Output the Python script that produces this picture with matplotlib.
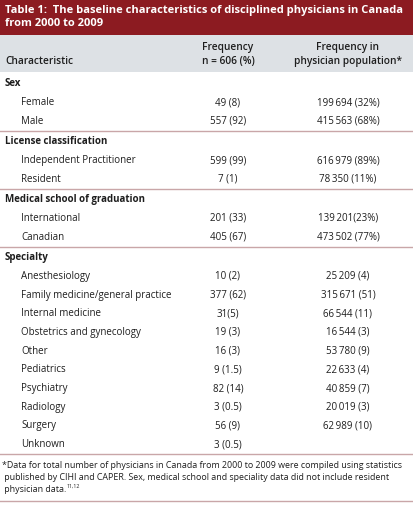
import matplotlib.pyplot as plt

plt.rcParams['font.family'] = ['Open Sans', 'DejaVu Sans']

title = "Table 1:  The baseline characteristics of disciplined physicians in Canada\nfrom 2000 to 2009"
col_heads = ["Characteristic", "Frequency\nn = 606 (%)", "Frequency in\nphysician population*"]

sex_rows = ["Female", "Male"]
sex_freq = ["49 (8)", "557 (92)"]
sex_pop = ["199\u2009694 (32%)", "415\u2009563 (68%)"]

lic_rows = ["Independent Practitioner", "Resident"]
lic_freq = ["599 (99)", "7 (1)"]
lic_pop = ["616\u2009979 (89%)", "78\u2009350 (11%)"]

school_rows = ["International", "Canadian"]
school_freq = ["201 (33)", "405 (67)"]
school_pop = ["139\u2009201(23%)", "473\u2009502 (77%)"]

spec_rows = ["Anesthesiology", "Family medicine/general practice", "Internal medicine",
             "Obstetrics and gynecology", "Other", "Pediatrics", "Psychiatry",
             "Radiology", "Surgery", "Unknown"]
spec_freq = ["10 (2)", "377 (62)", "31(5)", "19 (3)", "16 (3)", "9 (1.5)", "82 (14)",
             "3 (0.5)", "56 (9)", "3 (0.5)"]
spec_pop = ["25\u2009209 (4)", "315\u2009671 (51)", "66\u2009544 (11)", "16\u2009544 (3)",
            "53\u2009780 (9)", "22\u2009633 (4)", "40\u2009859 (7)", "20\u2009019 (3)",
            "62\u2009989 (10)", ""]

sections = [("Sex", sex_rows, sex_freq, sex_pop),
            ("License classification", lic_rows, lic_freq, lic_pop),
            ("Medical school of graduation", school_rows, school_freq, school_pop),
            ("Specialty", spec_rows, spec_freq, spec_pop)]

footnote = ["*Data for total number of physicians in Canada from 2000 to 2009 were compiled using statistics",
            " published by CIHI and CAPER. Sex, medical school and speciality data did not include resident",
            " physician data."]

W, H = 414, 507
fig = plt.figure(figsize=(W / 100, H / 100), dpi=100)
ax = fig.add_axes([0, 0, 1, 1])
ax.set_xlim(0, W)
ax.set_ylim(H, 0)
ax.axis('off')

red = '#8c1b21'
grey = '#dde1e5'
rule = '#c9a6a8'
ink = '#1e1e1e'
fs = 7.0
c2, c3 = 228, 348

# title bar and header band
ax.add_patch(plt.Rectangle((0, 0), W, 35, color=red, lw=0))
ax.add_patch(plt.Rectangle((0, 35), W, 37, color=grey, lw=0))
ax.text(5, 17.5, title, color='white', fontsize=8.0, fontweight='bold',
        va='center', ha='left', linespacing=1.25)

ax.text(5, 62, col_heads[0], fontsize=7.3, color=ink, va='center', fontweight='semibold')
ax.text(c2, 54.5, col_heads[1], fontsize=7.3, color=ink, va='center', ha='center',
        linespacing=1.4, fontweight='semibold')
ax.text(c3, 54.5, col_heads[2], fontsize=7.3, color=ink, va='center', ha='center',
        linespacing=1.4, fontweight='semibold')

step = 18.7
y = 84
for name, rows, freq, pop in sections:
    ax.text(5, y, name, fontsize=fs, color=ink, fontweight='bold', va='center')
    for r, f, p in zip(rows, freq, pop):
        y += step
        ax.text(21, y, r, fontsize=fs, color=ink, va='center')
        ax.text(c2, y, f, fontsize=fs, color=ink, va='center', ha='center')
        ax.text(c3, y, p, fontsize=fs, color=ink, va='center', ha='center')
    y += 9.5
    ax.axhline(y, color=rule, lw=1)
    y += 11

fy = y + 0.5
last = None
for i, line in enumerate(footnote):
    last = ax.text(2, fy + i * 11.7, line, fontsize=6.4, color=ink, va='center')
fig.canvas.draw()
bb = last.get_window_extent(fig.canvas.get_renderer())
xr = ax.transData.inverted().transform((bb.x1, bb.y1))[0]
ax.text(xr, fy + 2 * 11.7 - 3, "11,12", fontsize=3.8, color=ink, va='center')
ax.axhline(fy + 2 * 11.7 + 12, color=rule, lw=1)

fig.savefig('out.png', dpi=100)
